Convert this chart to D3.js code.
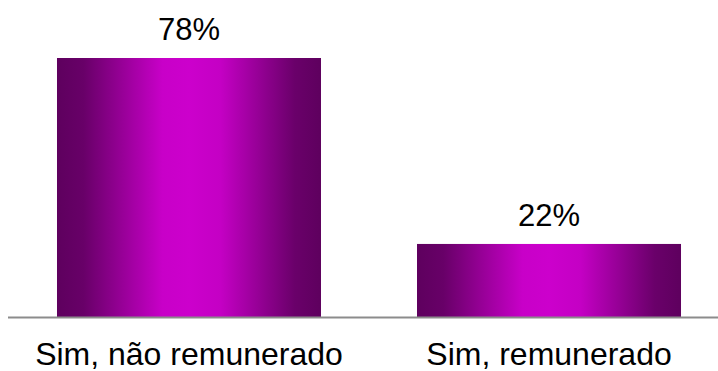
<!DOCTYPE html>
<html>
<head>
<meta charset="utf-8">
<script src="https://cdn.jsdelivr.net/npm/d3@7"></script>
<style>
html,body{margin:0;padding:0;background:#fff;}
svg{display:block;}
</style>
</head>
<body>
<script>
const categories = ["Sim, não remunerado", "Sim, remunerado"];
const values = [78, 22];
const valueLabels = ["78%", "22%"];

const W = 718, H = 371;
const svg = d3.select("body").append("svg").attr("width", W).attr("height", H);

const defs = svg.append("defs");
const grad = defs.append("linearGradient").attr("id", "barGrad")
  .attr("x1", "0%").attr("x2", "100%").attr("y1", "0%").attr("y2", "0%");
[[0, "#5e005e"], [0.1, "#680068"], [0.4, "#c800c8"], [0.5, "#cc00cc"], [0.62, "#c400c4"], [0.9, "#6a006a"], [1, "#5e005e"]]
  .forEach(([o, c]) => grad.append("stop").attr("offset", o).attr("stop-color", c));

const x = d3.scaleBand().domain(categories).range([9, 729])
  .paddingInner(0.2667).paddingOuter(0.1333);
const y = d3.scaleLinear().domain([0, 78]).range([317, 58]);

svg.selectAll("rect.bar").data(values).enter().append("rect")
  .attr("class", "bar")
  .attr("x", (d, i) => x(categories[i]))
  .attr("width", x.bandwidth())
  .attr("y", d => y(d))
  .attr("height", d => y(0) - y(d))
  .attr("fill", "url(#barGrad)");

svg.append("line").attr("x1", 8).attr("x2", 718).attr("y1", 317.5).attr("y2", 317.5)
  .attr("stroke", "#8c8c8c").attr("stroke-width", 2);

svg.selectAll("text.val").data(values).enter().append("text")
  .attr("class", "val")
  .attr("x", (d, i) => x(categories[i]) + x.bandwidth() / 2)
  .attr("y", d => y(d) - 18)
  .attr("text-anchor", "middle")
  .attr("font-family", "Liberation Sans, Arial, sans-serif")
  .attr("font-size", 31)
  .attr("fill", "#000")
  .text((d, i) => valueLabels[i]);

svg.selectAll("text.cat").data(categories).enter().append("text")
  .attr("class", "cat")
  .attr("x", d => x(d) + x.bandwidth() / 2)
  .attr("y", 365)
  .attr("text-anchor", "middle")
  .attr("font-family", "Liberation Sans, Arial, sans-serif")
  .attr("font-size", 32)
  .attr("fill", "#000")
  .text(d => d);
</script>
</body>
</html>
